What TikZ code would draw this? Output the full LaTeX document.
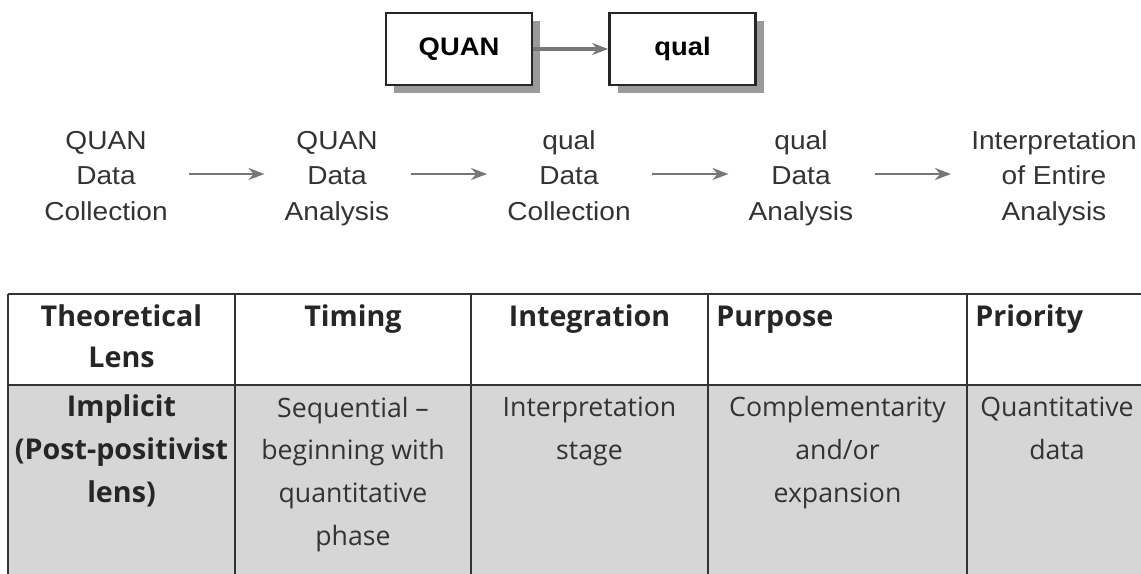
\documentclass[tikz,border=0pt]{standalone}
\usepackage{fontspec}
\setmainfont{Open Sans}
\newfontfamily\procfont[FakeStretch=1.08]{Liberation Sans}
\usetikzlibrary{arrows.meta, positioning, shadows}
\definecolor{linegray}{HTML}{333333}
\definecolor{arrowgray}{HTML}{777777}
\definecolor{shadowgray}{HTML}{9A9A9A}
\definecolor{cellgray}{HTML}{D6D6D6}

\begin{document}
\begin{tikzpicture}[
  x=0.75pt, y=-0.75pt,
  designbox/.style={rectangle, draw=black!85, line width=2.2pt, fill=white,
                    font=\procfont\fontsize{19}{24}\selectfont\bfseries,
                    minimum width=109.5pt, minimum height=54pt, inner sep=0pt,
                    drop shadow={shadow xshift=6pt, shadow yshift=-6pt,
                                 fill=shadowgray, opacity=1}},
  stage/.style={font=\procfont\fontsize{19.5}{26.3}\selectfont, text=black!80,
                align=center, anchor=base, inner sep=0pt},
  hdr/.style={font=\fontsize{21.5}{30.75}\selectfont\bfseries, text=black!85,
              align=center, anchor=base, inner sep=0pt},
  cell/.style={font=\fontsize{20}{32}\selectfont, text=black!80,
               align=center, anchor=base, inner sep=0pt},
  arr/.style={-{Stealth[length=12pt,width=9pt]}, line width=2pt, color=arrowgray},
  tabline/.style={line width=1.5pt, color=linegray},
]
\useasboundingbox (0,0) rectangle (1141,574);

%% DESIGN NOTATION
\node[designbox] (quan) at (459,49) {QUAN};
\node[designbox, right=56pt of quan] (qual) {qual};
\draw[arr, line width=2.3pt] (quan) -- (qual);

%% PROCEDURE STAGES (anchored on last baseline)
\node[stage] (s1) at (106,220)  {QUAN\\Data\\Collection};
\node[stage] (s2) at (337,220)  {QUAN\\Data\\Analysis};
\node[stage] (s3) at (569,220)  {qual\\Data\\Collection};
\node[stage] (s4) at (801,220)  {qual\\Data\\Analysis};
\node[stage] (s5) at (1054,220) {Interpretation\\of Entire\\Analysis};

\coordinate (arrowrow) at (0,174);
\draw[arr, shorten <=16pt, shorten >=15pt] (s1.east |- arrowrow) -- (s2.west |- arrowrow);
\draw[arr, shorten <=16pt, shorten >=15pt] (s2.east |- arrowrow) -- (s3.west |- arrowrow);
\draw[arr, shorten <=16pt, shorten >=15pt] (s3.east |- arrowrow) -- (s4.west |- arrowrow);
\draw[arr, shorten <=16pt, shorten >=15pt] (s4.east |- arrowrow) -- (s5.west |- arrowrow);

%% TABLE
\fill[cellgray] (8,385) rectangle (1141,574);
\draw[tabline] (8,294) -- (1141,294);
\draw[tabline, line width=2.2pt] (8,385) -- (1141,385);
\foreach \x in {8,235,471,708,967}
  \draw[tabline] (\x,294) -- (\x,574);

%% Header row
\node[hdr] (hlens) at (121.5,367) {Theoretical\\Lens};
\node[hdr] (htime) at (353,326)   {Timing};
\node[hdr] (hint)  at (589.5,326) {Integration};
\node[hdr, anchor=base west] (hpurp) at (716,326) {Purpose};
\node[hdr, anchor=base west] (hprio) at (975,326) {Priority};

%% Body row
\node[cell, font=\fontsize{21.5}{32}\selectfont\bfseries, text=black!85] (blens)
  at (121.5,502) {Implicit\\(Post-positivist\\lens)};
\node[cell] (btime) at (353,545)   {Sequential --\\beginning with\\quantitative\\phase};
\node[cell] (bint)  at (589.5,459) {Interpretation\\stage};
\node[cell] (bpurp) at (837.5,502) {Complementarity\\and/or\\expansion};
\node[cell] (bprio) at (1057,459)  {Quantitative\\data};

\end{tikzpicture}
\end{document}
